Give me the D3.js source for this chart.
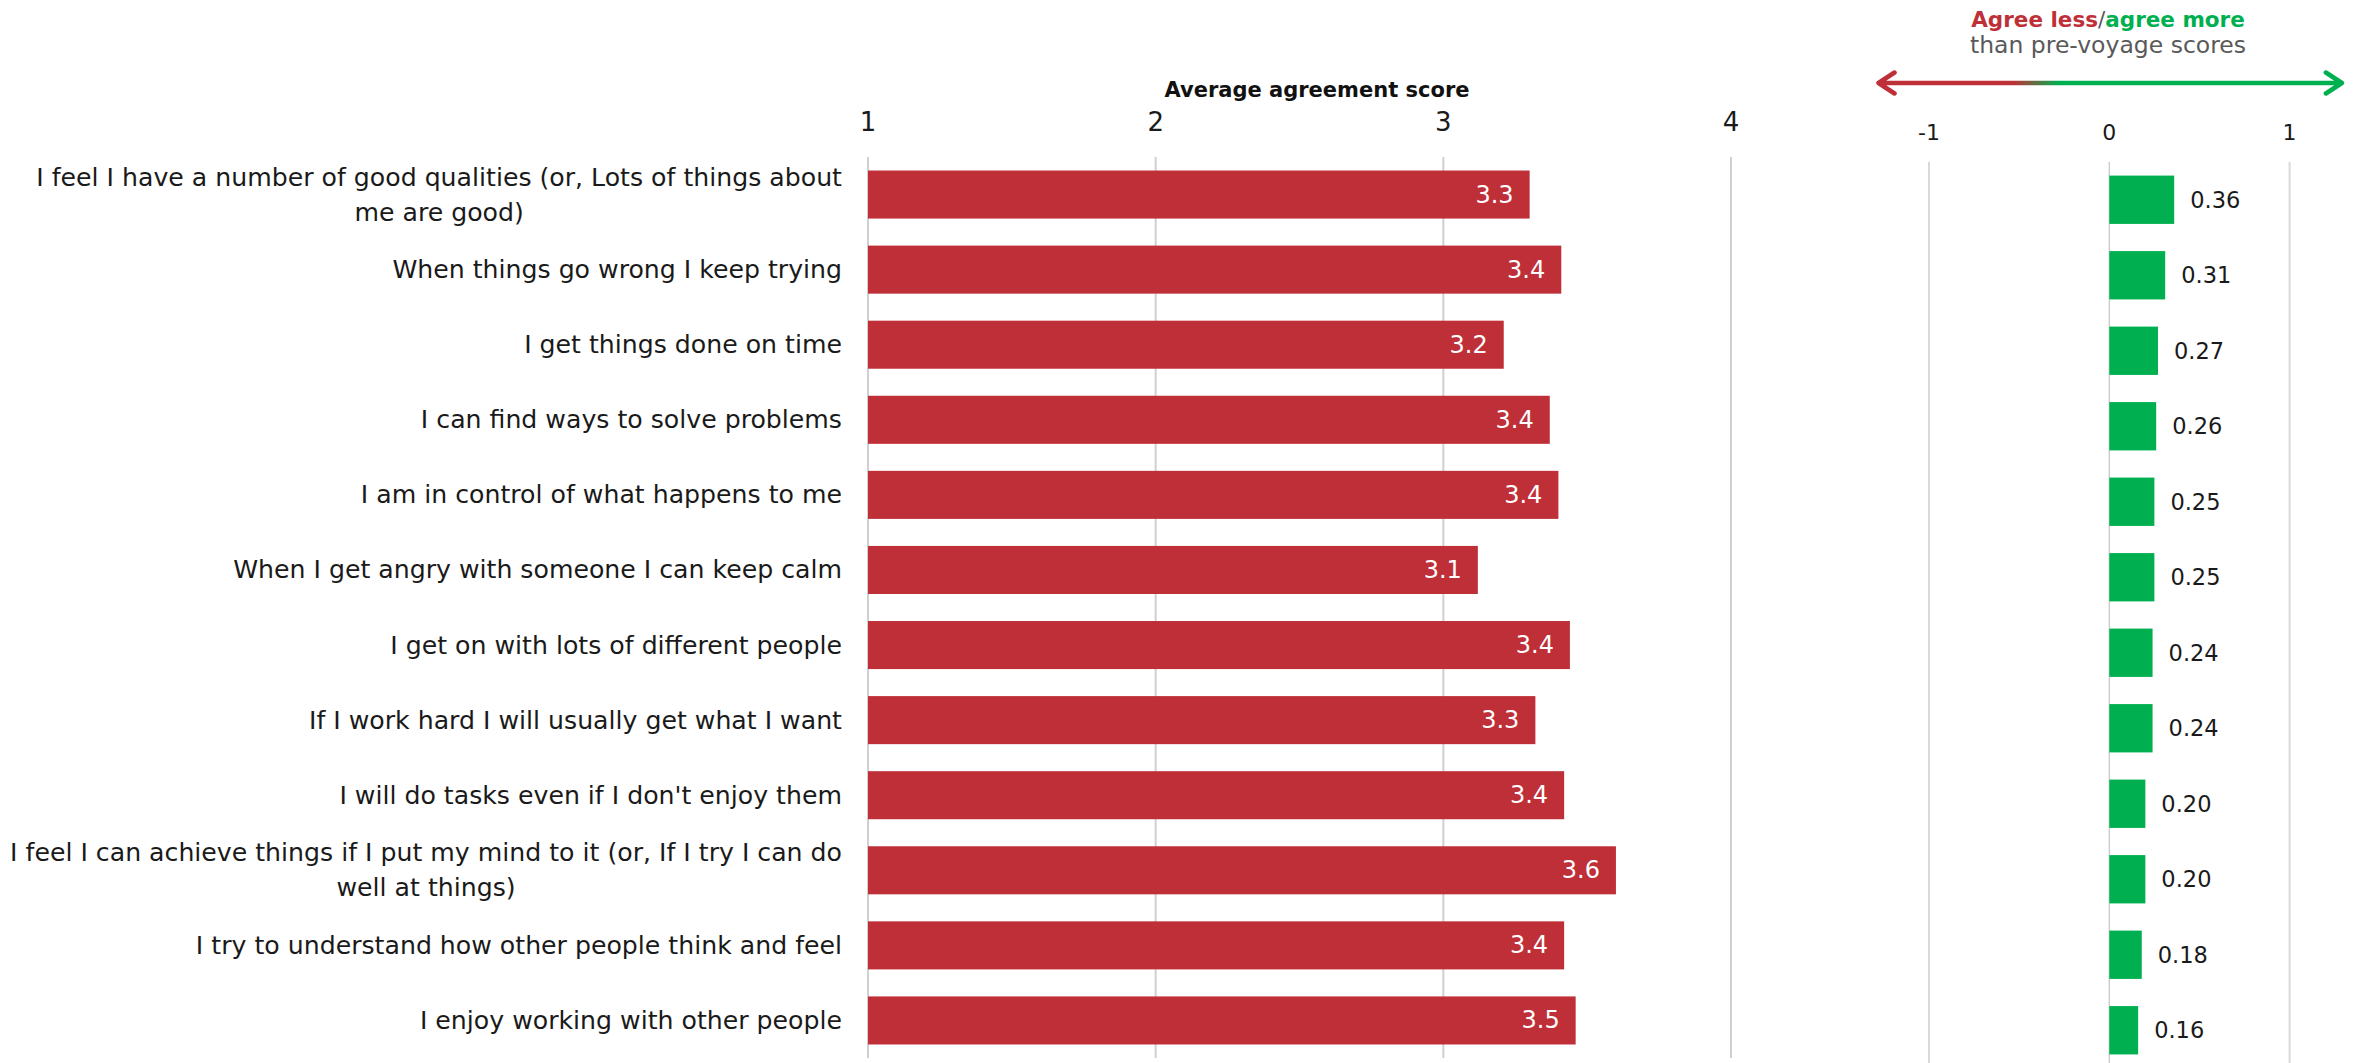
<!DOCTYPE html>
<html>
<head>
<meta charset="utf-8">
<script src="https://cdn.jsdelivr.net/npm/d3@7"></script>
<style>
  html, body { margin: 0; padding: 0; background: #fff; }
  svg { display: block; }
  text { font-family: "DejaVu Sans", "Open Sans", sans-serif; }
</style>
</head>
<body>
<script>
// Statements, in the order they are listed
const categories = [
  "I feel I have a number of good qualities (or, Lots of things about me are good)",
  "When things go wrong I keep trying",
  "I get things done on time",
  "I can find ways to solve problems",
  "I am in control of what happens to me",
  "When I get angry with someone I can keep calm",
  "I get on with lots of different people",
  "If I work hard I will usually get what I want",
  "I will do tasks even if I don't enjoy them",
  "I feel I can achieve things if I put my mind to it (or, If I try I can do well at things)",
  "I try to understand how other people think and feel",
  "I enjoy working with other people"
];

// Line breaks used for the two long statements
const wrappedLines = {
  0: ["I feel I have a number of good qualities (or, Lots of things about", "me are good)"],
  9: ["I feel I can achieve things if I put my mind to it (or, If I try I can do", "well at things)"]
};

// Average agreement score after the voyage
const postScores = [3.30, 3.41, 3.21, 3.37, 3.40, 3.12, 3.44, 3.32, 3.42, 3.60, 3.42, 3.46];

// Change against the pre-voyage scores
const changes = [0.36, 0.31, 0.27, 0.26, 0.25, 0.25, 0.24, 0.24, 0.20, 0.20, 0.18, 0.16];

const scoreTicks = [1, 2, 3, 4];
const changeTicks = [-1, 0, 1];

const W = 2354, H = 1063;
const RED = "#bf2f38", GREEN = "#00b050";

const svg = d3.select("body").append("svg")
  .attr("width", W).attr("height", H);

// ---------- left panel: average agreement score ----------
const x = d3.scaleLinear().domain([1, 4]).range([868, 1731]);
const y = d3.scaleBand().domain(d3.range(categories.length))
  .range([157, 1058]).paddingInner(0.36).paddingOuter(0.18);

const left = svg.append("g");

left.append("g").selectAll("line").data(scoreTicks).join("line")
  .attr("x1", d => x(d)).attr("x2", d => x(d))
  .attr("y1", 157).attr("y2", 1058)
  .attr("stroke", "#d0d0d0").attr("stroke-width", 2);

left.append("g").selectAll("text").data(scoreTicks).join("text")
  .attr("x", d => x(d)).attr("y", 122)
  .attr("text-anchor", "middle").attr("dominant-baseline", "central")
  .attr("font-size", 26).attr("fill", "#1a1a1a")
  .text(d => d);

left.append("text")
  .attr("x", 1317).attr("y", 97)
  .attr("text-anchor", "middle")
  .attr("font-size", 21).attr("font-weight", "bold").attr("fill", "#111")
  .text("Average agreement score");

left.append("g").selectAll("rect").data(postScores).join("rect")
  .attr("x", x(1))
  .attr("y", (d, i) => y(i))
  .attr("width", d => x(d) - x(1))
  .attr("height", y.bandwidth())
  .attr("fill", RED);

left.append("g").selectAll("text").data(postScores).join("text")
  .attr("x", d => x(d) - 16)
  .attr("y", (d, i) => y(i) + y.bandwidth() / 2)
  .attr("text-anchor", "end").attr("dominant-baseline", "central")
  .attr("font-size", 24).attr("fill", "#fff")
  .text(d => d3.format(".1f")(d));

// statement labels: single lines right-aligned, wrapped ones centred as a block
const labelRight = 842;
const labels = left.append("g").attr("font-size", 25.2).attr("fill", "#1a1a1a");
categories.forEach((c, i) => {
  const cy = y(i) + y.bandwidth() / 2;
  const lines = wrappedLines[i];
  if (!lines) {
    labels.append("text")
      .attr("x", labelRight).attr("y", cy)
      .attr("text-anchor", "end").attr("dominant-baseline", "central")
      .text(c);
  } else {
    const g = labels.append("g");
    const ts = lines.map((ln, k) => g.append("text")
      .attr("y", cy + (k - (lines.length - 1) / 2) * 35)
      .attr("text-anchor", "middle").attr("dominant-baseline", "central")
      .text(ln));
    const wMax = d3.max(ts, t => t.node().getComputedTextLength());
    ts.forEach(t => t.attr("x", labelRight - wMax / 2));
  }
});

// ---------- right panel: change from pre-voyage ----------
const xr = d3.scaleLinear().domain([-1, 1]).range([1929, 2289.6]);
const yr = d3.scaleBand().domain(d3.range(categories.length))
  .range([162, 1068]).paddingInner(0.36).paddingOuter(0.18);

const right = svg.append("g");

right.append("g").selectAll("line").data(changeTicks).join("line")
  .attr("x1", d => xr(d)).attr("x2", d => xr(d))
  .attr("y1", 162).attr("y2", 1068)
  .attr("stroke", d => d === 0 ? "#c4c4c4" : "#d9d9d9")
  .attr("stroke-width", d => d === 0 ? 1.2 : 2);

right.append("g").selectAll("text").data(changeTicks).join("text")
  .attr("x", d => xr(d)).attr("y", 132)
  .attr("text-anchor", "middle").attr("dominant-baseline", "central")
  .attr("font-size", 22).attr("fill", "#1a1a1a")
  .text(d => d);

right.append("g").selectAll("rect").data(changes).join("rect")
  .attr("x", d => xr(Math.min(0, d)))
  .attr("y", (d, i) => yr(i))
  .attr("width", d => Math.abs(xr(d) - xr(0)))
  .attr("height", yr.bandwidth())
  .attr("fill", d => d >= 0 ? GREEN : RED);

right.append("g").selectAll("text").data(changes).join("text")
  .attr("x", d => xr(d) + 16)
  .attr("y", (d, i) => yr(i) + yr.bandwidth() / 2)
  .attr("dominant-baseline", "central")
  .attr("font-size", 22.5).attr("fill", "#1a1a1a")
  .text(d => d3.format(".2f")(d));

// direction arrow: red towards "agree less", green towards "agree more"
const defs = svg.append("defs");
const grad = defs.append("linearGradient").attr("id", "dirGrad")
  .attr("gradientUnits", "userSpaceOnUse")
  .attr("x1", xr(-1.28)).attr("x2", xr(1.29)).attr("y1", 0).attr("y2", 0);
grad.append("stop").attr("offset", "0.29").attr("stop-color", RED);
grad.append("stop").attr("offset", "0.39").attr("stop-color", GREEN);

const ay = 83, ax0 = xr(-1.28), ax1 = xr(1.29), hw = 16, hh = 10.5;
right.append("path")
  .attr("d", `M${ax0},${ay}H${ax1}M${ax0 + hw},${ay - hh}L${ax0},${ay}L${ax0 + hw},${ay + hh}M${ax1 - hw},${ay - hh}L${ax1},${ay}L${ax1 - hw},${ay + hh}`)
  .attr("fill", "none").attr("stroke", "url(#dirGrad)")
  .attr("stroke-width", 4.5).attr("stroke-linecap", "round").attr("stroke-linejoin", "round");

const hdr = right.append("text")
  .attr("x", 2108).attr("y", 27)
  .attr("text-anchor", "middle")
  .attr("font-size", 21.5).attr("font-weight", "bold");
hdr.append("tspan").attr("fill", RED).text("Agree less");
hdr.append("tspan").attr("fill", "#595959").attr("font-weight", "normal").text("/");
hdr.append("tspan").attr("fill", GREEN).text("agree more");

right.append("text")
  .attr("x", 2108).attr("y", 53)
  .attr("text-anchor", "middle")
  .attr("font-size", 23.5).attr("fill", "#595959")
  .text("than pre-voyage scores");
</script>
</body>
</html>
